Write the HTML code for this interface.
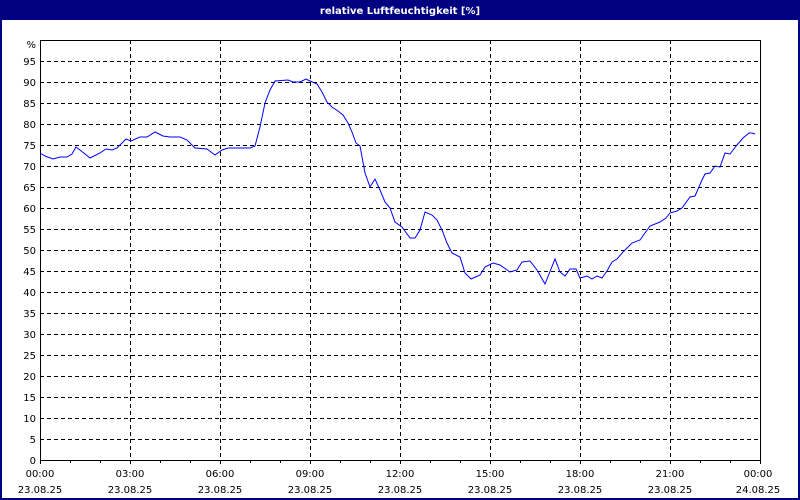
<!DOCTYPE html>
<html><head><meta charset="utf-8"><style>
body{margin:0;width:800px;height:500px;overflow:hidden;background:#fff}
svg{display:block}
text{font-family:"DejaVu Sans","Liberation Sans",sans-serif;font-size:10px;fill:#000}
</style></head><body>
<svg width="800" height="500" viewBox="0 0 800 500">
<rect x="0" y="0" width="800" height="500" fill="#000080"/>
<rect x="2" y="20" width="796" height="478" fill="#fff"/>
<text x="400" y="14" text-anchor="middle" style="fill:#fff;font-weight:bold;font-size:10px">relative Luftfeuchtigkeit [%]</text>
<g stroke="#000" stroke-width="1" stroke-dasharray="4,3" shape-rendering="crispEdges">
<line x1="40" x2="760" y1="61.5" y2="61.5"/><line x1="40" x2="760" y1="82.5" y2="82.5"/><line x1="40" x2="760" y1="103.5" y2="103.5"/><line x1="40" x2="760" y1="124.5" y2="124.5"/><line x1="40" x2="760" y1="145.5" y2="145.5"/><line x1="40" x2="760" y1="166.5" y2="166.5"/><line x1="40" x2="760" y1="187.5" y2="187.5"/><line x1="40" x2="760" y1="208.5" y2="208.5"/><line x1="40" x2="760" y1="229.5" y2="229.5"/><line x1="40" x2="760" y1="250.5" y2="250.5"/><line x1="40" x2="760" y1="271.5" y2="271.5"/><line x1="40" x2="760" y1="292.5" y2="292.5"/><line x1="40" x2="760" y1="313.5" y2="313.5"/><line x1="40" x2="760" y1="334.5" y2="334.5"/><line x1="40" x2="760" y1="355.5" y2="355.5"/><line x1="40" x2="760" y1="376.5" y2="376.5"/><line x1="40" x2="760" y1="397.5" y2="397.5"/><line x1="40" x2="760" y1="418.5" y2="418.5"/><line x1="40" x2="760" y1="439.5" y2="439.5"/>
<line y1="40" y2="460" x1="130.5" x2="130.5"/><line y1="40" y2="460" x1="220.5" x2="220.5"/><line y1="40" y2="460" x1="310.5" x2="310.5"/><line y1="40" y2="460" x1="400.5" x2="400.5"/><line y1="40" y2="460" x1="490.5" x2="490.5"/><line y1="40" y2="460" x1="580.5" x2="580.5"/><line y1="40" y2="460" x1="670.5" x2="670.5"/>
</g>
<g stroke="#000" stroke-width="1" shape-rendering="crispEdges">
<line x1="40.5" y1="40" x2="40.5" y2="460"/><line x1="760.5" y1="40" x2="760.5" y2="464"/><line x1="40" y1="40.5" x2="761" y2="40.5"/><line x1="40" y1="460.5" x2="761" y2="460.5"/>
<path d="M40.5 460v4M70.5 460v3M100.5 460v3M130.5 460v4M160.5 460v3M190.5 460v3M220.5 460v4M250.5 460v3M280.5 460v3M310.5 460v4M340.5 460v3M370.5 460v3M400.5 460v4M430.5 460v3M460.5 460v3M490.5 460v4M520.5 460v3M550.5 460v3M580.5 460v4M610.5 460v3M640.5 460v3M670.5 460v4M700.5 460v3M730.5 460v3"/>
</g>
<polyline fill="none" stroke="#0000ff" stroke-width="1" points="40,153 45,156 53,159 60,157 67,157 72,154 76,147 80,150 90,158 100,153 106,149 112,150 117,148 126,139 131,141 140,137 147,137 155,132 163,136 170,137 180,137 187,140 195,148 207,149 215,155 222,150 228,148 240,148 250,148 255,146 260,127 265,103 270,90 275,81 288,80 293,82 300,82 306,79 310,81 317,84 322,92 327,102 332,107 338,111 343,115 348,123 352,132 356,143 360,146 365,173 370,187 375,179 380,190 385,202 390,208 395,222 402,227 410,238 415,238 420,230 425,212 432,215 437,220 442,230 447,243 452,253 460,257 465,273 471,279 480,275 485,267 493,263 500,265 510,272 517,270 522,262 530,261 537,270 545,284 555,259 560,272 565,276 570,269 576,269 580,278 587,276 592,279 597,276 602,278 607,271 612,262 617,259 623,252 632,243 640,240 645,233 650,226 660,222 666,218 670,213 677,211 682,208 690,197 695,196 702,180 705,174 710,173 715,166 720,167 725,153 730,154 737,145 743,138 749,133 752,133 755,134"/>
<g text-anchor="end">
<text x="36" y="48">%</text>
<text x="36" y="65">95</text><text x="36" y="86">90</text><text x="36" y="107">85</text><text x="36" y="128">80</text><text x="36" y="149">75</text><text x="36" y="170">70</text><text x="36" y="191">65</text><text x="36" y="212">60</text><text x="36" y="233">55</text><text x="36" y="254">50</text><text x="36" y="275">45</text><text x="36" y="296">40</text><text x="36" y="317">35</text><text x="36" y="338">30</text><text x="36" y="359">25</text><text x="36" y="380">20</text><text x="36" y="401">15</text><text x="36" y="422">10</text><text x="36" y="443">5</text><text x="36" y="464">0</text>
</g>
<g text-anchor="middle">
<text x="40" y="477">00:00</text><text x="40" y="493">23.08.25</text>
<text x="130" y="477">03:00</text><text x="130" y="493">23.08.25</text>
<text x="220" y="477">06:00</text><text x="220" y="493">23.08.25</text>
<text x="310" y="477">09:00</text><text x="310" y="493">23.08.25</text>
<text x="400" y="477">12:00</text><text x="400" y="493">23.08.25</text>
<text x="490" y="477">15:00</text><text x="490" y="493">23.08.25</text>
<text x="580" y="477">18:00</text><text x="580" y="493">23.08.25</text>
<text x="670" y="477">21:00</text><text x="670" y="493">23.08.25</text>
<text x="758" y="477">00:00</text><text x="758" y="493">24.08.25</text>
</g>
</svg>
</body></html>
